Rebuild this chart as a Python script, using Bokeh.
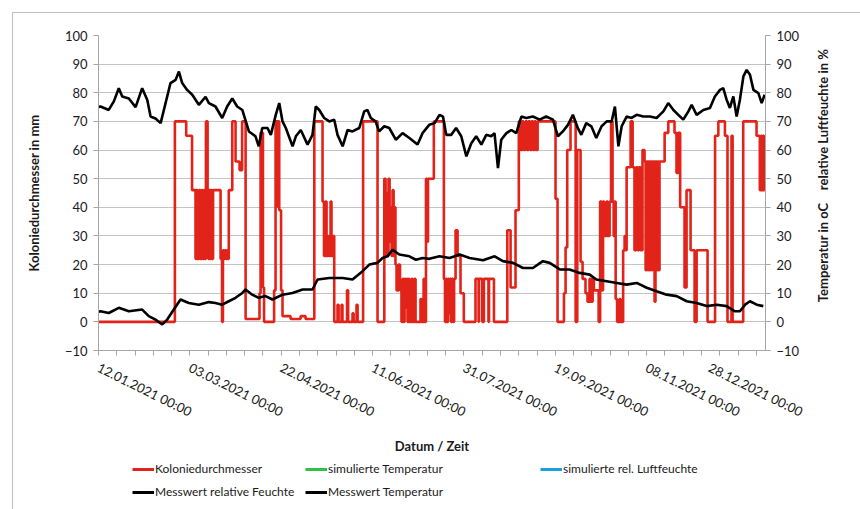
import math
from bokeh.plotting import figure
from bokeh.layouts import column, row
from bokeh.core.properties import value
from bokeh.models import (Range1d, LinearAxis, SingleIntervalTicker, FixedTicker,
                          Legend, LegendItem, InlineStyleSheet)
from bokeh.embed import file_html
from bokeh.resources import INLINE

FONT = "Lato"
NB = "\u00a0"

# x values: days after 12.01.2021 00:00
x_tick_days = [0, 50, 100, 150, 200, 250, 300, 350]
x_tick_labels = ["12.01.2021 00:00", "03.03.2021 00:00", "22.04.2021 00:00",
                 "11.06.2021 00:00", "31.07.2021 00:00", "19.09.2021 00:00",
                 "08.11.2021 00:00", "28.12.2021 00:00"]

# Messwert relative Feuchte (%)
hum_day = [0, 1.1, 5.6, 8.4, 11.1, 13.0, 16.6, 20.3, 23.9, 26.7, 28.5, 31.2, 34.0, 36.7, 39.4, 42.2,
           44.0, 45.8, 48.5, 51.3, 54.9, 58.6, 60.4, 64.0, 67.7, 70.4, 73.2, 75.9, 78.7, 82.3, 85.9,
           87.7, 89.6,
           92.5, 94.3, 97.0, 98.9, 100.7, 102.5, 106.2, 108.0, 110.7, 114.4, 117.1, 118.9, 120.8,
           123.5, 126.3, 129.0, 130.8, 133.6, 136.3, 139.0, 142.7, 145.4, 147.2, 149.0, 151.6, 153.6,
           156.4, 159.1, 162.7, 166.4, 170.1, 174.6, 177.3, 181.0,
           183.9, 186.6, 188.5, 190.3, 193.0, 195.7, 198.5, 201.3, 204.0, 206.7, 209.5, 212.2, 214.9,
           216.7, 218.6, 220.4, 223.2, 225.9, 228.6, 231.4, 234.1, 237.7, 241.4, 245.0, 248.7, 251.4,
           254.1, 256.9, 259.6, 262.3, 264.2, 266.9, 269.7, 272.4,
           275.3, 278.1, 280.8, 282.6, 284.5, 286.3, 289.0, 291.7, 294.5, 298.1, 301.8, 305.4, 309.1,
           311.8, 314.6, 317.3, 320.0, 322.8, 324.6, 327.3, 331.0, 334.6, 337.3, 340.1, 341.9, 343.7,
           345.5, 347.4, 349.2, 351.0, 352.9, 354.7, 356.5, 358.4, 361.1, 362.9, 364.5]
hum_val = [75, 75.2, 74, 77, 81.6, 78.7, 78, 75, 81.6, 77.5, 71.7, 71, 69.4, 76.4, 83.4, 84.5,
           87.4, 83.4, 81, 79.3, 75.8, 78.6, 76.4, 75.2, 71.2, 75.2, 78, 75.2, 74, 66.5, 64.8,
           61.3, 67.7,
           67.7, 65.3, 72.3, 76.4, 70, 67.7, 61.3, 64.8, 67, 61.9, 65.3, 75.2, 74,
           71.2, 70, 70.6, 65.3, 61.3, 67, 66.5, 67.7, 73.5, 74, 71.2, 70, 66.5,
           68.3, 67.7, 63.6, 65.9, 64.2, 61.9, 65.9, 68.8,
           69.4, 72.3, 71.7, 65.3, 65.3, 67.7, 64.8, 57.8, 62.4, 64.8, 61.9, 65.3, 64.8,
           65.9, 53.7, 63.6, 65.9, 67, 65.9, 71.7, 71.2, 71.7, 70.6, 71.7, 70.6, 64.8,
           66.5, 68.8, 72.3, 67.7, 65.3, 69.4, 68.3, 64.2,
           68.3, 70, 70, 75.2, 61.3, 68.3, 71.7, 71.2, 72.3, 71.7, 71.7, 71.2, 73.5,
           76.4, 74, 72.3, 70.6, 73.5, 75.8, 72.3, 74, 74.7, 78.7, 81, 81.6, 77.6,
           74.7, 78.7, 71.7, 77.6, 85.7, 88, 86.3, 81, 79.9, 76.4, 79.3]

# Messwert Temperatur (degC)
temp_day = [0, 1.1, 5.6, 11.1, 16.6, 23.9, 27.5, 31.2, 34.9, 37.6, 41.2, 44.9, 49.4, 54.9, 60.4,
            64.0, 67.7, 71.3, 75.0, 78.7, 80.5, 84.1, 87.7, 91.4, 95.2, 100.7, 106.2, 111.7, 117.1,
            119.9, 126.3, 133.6, 139.0, 144.5, 148.2, 152.7, 155.4, 158.2, 160.9, 164.6, 170.1,
            173.7, 177.3, 181.0, 186.6, 192.1, 197.6, 203.1, 210.4, 216.8, 221.3, 226.8, 232.3,
            237.7, 243.2, 246.9, 252.4, 257.8, 263.3, 268.8, 272.4, 278.1, 283.6, 289.0, 294.5,
            300.0, 305.4, 310.9, 316.4, 321.9, 327.3, 332.8, 338.3, 343.7, 348.3, 351.0, 353.8,
            356.5, 360.2, 363.8]
temp_val = [3.5, 3.7, 3.1, 4.9, 3.7, 4.3, 2.0, 0.8, -0.9, 0.8, 4.3, 7.8, 6.6, 6.0, 6.9,
            6.6, 6.0, 7.2, 8.4, 10.1, 11.3, 9.5, 8.4, 9.0, 7.8, 9.5, 10.1, 11.3, 11.3,
            14.8, 15.3, 15.3, 14.8, 17.7, 20.0, 20.6, 22.3, 22.9, 25.2, 23.5, 22.9,
            21.7, 22.3, 22.0, 22.9, 22.3, 23.5, 22.3, 21.5, 22.9, 21.2, 20.6, 18.8,
            18.8, 21.2, 20.6, 18.3, 18.3, 17.1, 16.5, 14.8, 14.2, 13.6, 13.0, 13.6,
            11.9, 10.7, 9.5, 9.0, 7.2, 6.6, 5.5, 6.0, 5.5, 3.7, 3.7, 6.0,
            7.2, 6.0, 5.5]

# Koloniedurchmesser (mm), step values
col_day = [0, 41.8, 48.0, 51.2, 53.1, 53.6, 54.2, 55.0, 55.6, 56.4, 56.9, 57.7, 58.3, 58.8, 59.7,
           60.1, 60.5, 61.0, 61.6, 62.1, 62.7, 66.8, 67.6, 68.1, 68.7, 69.2, 69.8, 70.3, 70.9, 71.3,
           73.2, 75.0, 77.2, 78.6, 80.5, 88.1, 88.7,
           90.0, 90.6, 96.1, 96.9, 97.3, 97.6, 98.0, 98.3, 98.9, 99.9, 100.7, 105.1, 110.6, 113.3,
           118.1, 122.6, 123.4, 124.2, 124.8, 125.6, 126.2, 127.0, 127.5, 128.3, 129.0, 130.8, 131.4,
           133.0, 133.5, 136.0, 136.6, 139.0, 139.6, 141.2, 141.8, 144.8, 152.7,
           156.4, 157.1, 157.6, 158.2, 158.7, 159.3, 159.8, 160.4, 160.9, 161.5, 162.0, 162.5, 163.1,
           164.2, 165.0, 165.8, 166.4, 166.9, 167.5, 168.0, 168.6, 169.1, 169.7, 170.2, 171.3, 171.9,
           172.9, 173.5, 176.2, 176.8, 177.9, 178.4, 179.2, 179.8, 180.3,
           183.5, 189.0, 189.6, 190.2, 190.7, 191.3, 191.8, 192.4, 192.9, 193.5, 194.0, 194.6, 195.4,
           196.5, 198.1, 199.9, 206.3, 208.0, 208.2, 210.0, 210.9, 213.4, 213.7, 216.4, 223.7, 225.5,
           228.2, 230.0, 231.0, 231.8, 232.6, 233.7, 234.5, 235.3, 236.2, 237.0, 237.8, 238.6, 239.4,
           240.3, 250.1, 251.2, 254.7, 255.6, 256.5, 258.3, 261.1, 262.0, 263.8, 264.9, 266.5, 267.6,
           268.7, 269.5, 270.4, 271.1,
           273.7, 274.5, 275.3, 276.1, 276.7, 278.0, 278.6, 279.7, 280.5, 281.3, 281.9, 282.4, 283.0,
           283.8, 285.1, 285.7, 287.1, 287.9, 288.4, 289.0, 291.2, 292.3, 293.3, 294.2, 295.0, 295.8,
           296.6, 297.7, 298.8, 299.4, 299.9, 300.5, 301.0, 301.6, 302.1, 302.7, 303.2, 304.3, 304.8,
           305.4, 305.9, 306.5, 307.0, 309.8, 311.8, 315.2, 316.3, 317.2, 318.3, 320.7, 321.8, 324.0,
           326.2, 327.3, 333.3, 337.4, 339.2, 342.8, 344.2, 346.4, 347.0, 352.8, 360.1, 361.9, 362.6,
           363.1, 363.7, 364.2, 364.6]
col_val = [0, 70, 65, 46, 22, 46, 22, 46, 22, 46, 22, 46, 22, 70, 46,
           22, 46, 22, 46, 22, 46, 22, 0, 25, 22, 25, 22, 25, 22, 46,
           70, 56, 53, 70, 1, 10, 66,
           12, 0, 11, 70, 40, 70, 45, 70, 39, 11, 2, 1, 2, 1,
           70, 42, 23, 42, 23, 30, 23, 42, 23, 30, 0, 6, 0,
           6, 0, 11, 0, 3, 0, 6, 0, 70, 0,
           50, 23, 45, 23, 50, 28, 40, 23, 46, 23, 40, 20, 11,
           20, 11, 0, 15, 0, 15, 5, 15, 0, 15, 0, 15, 0,
           15, 0, 8, 0, 15, 0, 50, 28, 50,
           70, 15, 0, 15, 0, 15, 3, 15, 0, 15, 0, 15, 32,
           23, 10, 0, 15, 0, 15, 0, 15, 0, 15, 0, 32, 12,
           39, 70, 60, 70, 60, 70, 60, 70, 60, 70, 60, 70, 60,
           70, 43, 0, 10, 26, 60, 70, 0, 60, 21, 15, 10, 7,
           15, 7, 15, 11,
           0, 42, 11, 42, 30, 42, 30, 42, 70, 42, 30, 42, 8,
           0, 8, 0, 25, 30, 25, 54, 70, 54, 25, 54, 25, 54,
           25, 60, 56, 18, 56, 18, 56, 18, 56, 18, 56, 7, 56,
           18, 56, 18, 56, 66, 70, 66, 52, 66, 40, 12, 46, 25,
           0, 25, 0, 65, 70, 65, 0, 65, 0, 70, 65, 46, 65,
           46, 65, 46, 46]

legend_labels = ["Koloniedurchmesser", "simulierte Temperatur", "simulierte rel. Luftfeuchte",
                 "Messwert relative Feuchte", "Messwert Temperatur"]
right_title = "Temperatur in oC" + NB * 4 + "relative Luftfeuchte in %"

RED = "#e2231a"
GREEN = "#2fbf4a"
BLUE = "#1a9fe0"
BLACK = "#000000"
AXIS_GRAY = "#a6a6a6"
GRID_GRAY = "#c4c4c4"
FRAME_GRAY = "#c0c0c0"
TXT = "#1a1a1a"

MAIN_W, MAIN_H = 805, 460
LEG_H = 49
STRIP_W = 860 - MAIN_W
TOTAL_H = MAIN_H + LEG_H
FRAME_LEFT = 98

p = figure(width=MAIN_W, height=MAIN_H, x_range=Range1d(0, 365), y_range=Range1d(-10, 100),
           output_backend="svg", toolbar_location=None,
           min_border_left=FRAME_LEFT, min_border_right=40, min_border_top=35, min_border_bottom=110)
p.extra_y_ranges = {"right": Range1d(-10, 100)}
p.outline_line_color = None
p.background_fill_color = "white"
p.border_fill_color = None

p.step(col_day, col_val, mode="after", line_color=RED, line_width=2.6)
p.line(hum_day, hum_val, line_color=BLACK, line_width=2.6)
p.line(temp_day, temp_val, line_color=BLACK, line_width=2.6)

# axes
yl = p.yaxis[0]
yl.ticker = SingleIntervalTicker(interval=10, num_minor_ticks=0)
yl.axis_label = "Koloniedurchmesser in mm"
yr = LinearAxis(y_range_name="right", ticker=SingleIntervalTicker(interval=10, num_minor_ticks=0))
p.add_layout(yr, "right")

for ax in (yl, yr):
    ax.axis_line_color = AXIS_GRAY
    ax.major_tick_line_color = AXIS_GRAY
    ax.major_tick_out = 5
    ax.major_tick_in = 0
    ax.major_label_text_font = FONT
    ax.major_label_text_font_size = "13px"
    ax.major_label_text_color = TXT
    ax.major_label_standoff = 6
    ax.axis_label_text_font = FONT
    ax.axis_label_text_font_style = "bold"
    ax.axis_label_text_font_size = "13px"
    ax.axis_label_text_color = TXT
yl.axis_label_standoff = 20

xa = p.xaxis[0]
minor = [d for d in range(0, 366, 10) if d % 50 != 0]
xa.ticker = FixedTicker(ticks=x_tick_days, minor_ticks=minor)
xa.major_label_overrides = {d: lab for d, lab in zip(x_tick_days, x_tick_labels)}
xa.major_label_orientation = -0.46
xa.axis_label = "Datum / Zeit"
xa.axis_line_color = AXIS_GRAY
xa.major_tick_line_color = AXIS_GRAY
xa.minor_tick_line_color = AXIS_GRAY
xa.major_tick_out = 5
xa.major_tick_in = 0
xa.minor_tick_out = 5
xa.minor_tick_in = 0
xa.major_label_text_font = FONT
xa.major_label_text_font_size = "13px"
xa.major_label_text_color = TXT
xa.major_label_standoff = 11
xa.axis_label_text_font = FONT
xa.axis_label_text_font_style = "bold"
xa.axis_label_text_font_size = "13px"
xa.axis_label_text_color = TXT
xa.axis_label_standoff = 8

p.xgrid.grid_line_color = None
p.ygrid.grid_line_color = GRID_GRAY
p.ygrid.grid_line_width = 1

# legend strip below the chart (its frame is aligned with the chart frame)
lg = figure(width=MAIN_W, height=LEG_H, x_range=Range1d(0, 1), y_range=Range1d(0, 1),
            output_backend="svg", toolbar_location=None, min_border=0,
            x_axis_location=None, y_axis_location=None)
lg.outline_line_color = None
lg.xgrid.grid_line_color = None
lg.ygrid.grid_line_color = None
lg.border_fill_color = None
lg.background_fill_color = None

leg_colors = [RED, GREEN, BLUE, BLACK, BLACK]
leg_pos = [(132 - FRAME_LEFT, 33), (305 - FRAME_LEFT, 33), (540 - FRAME_LEFT, 33),
           (132 - FRAME_LEFT, 10), (305 - FRAME_LEFT, 10)]
for label, color, (lx, ly) in zip(legend_labels, leg_colors, leg_pos):
    # sample renderer for the legend key only (lies outside the strip's range)
    rend = lg.line([-2, -1], [-2, -1], line_color=color, line_width=3)
    leg = Legend(items=[LegendItem(label=label, renderers=[rend])], location=(lx, ly),
                 padding=0, margin=0, spacing=0, glyph_width=22, glyph_height=12,
                 label_height=12, label_standoff=1, label_text_font=FONT,
                 label_text_font_size="12px", label_text_color=TXT,
                 border_line_alpha=0, background_fill_alpha=0)
    lg.add_layout(leg, "center")

# strip on the right holding the right axis title (reads bottom to top)
rs = figure(width=STRIP_W, height=TOTAL_H, x_range=Range1d(0, STRIP_W), y_range=Range1d(0, TOTAL_H),
            output_backend="svg", toolbar_location=None, min_border=0,
            x_axis_location=None, y_axis_location=None)
rs.outline_line_color = None
rs.xgrid.grid_line_color = None
rs.ygrid.grid_line_color = None
rs.border_fill_color = None
rs.background_fill_color = None
rs.text(x=[822 - MAIN_W], y=[TOTAL_H - 175], text=[right_title], angle=math.pi / 2,
        text_align="center", text_baseline="middle", text_font=value(FONT),
        text_font_style="bold", text_font_size="13px", text_color=TXT)

layout = row(column(p, lg, spacing=0), rs, spacing=0)
bg = (f"linear-gradient({FRAME_GRAY},{FRAME_GRAY}) 12px 12px / 100% 1px no-repeat, "
      f"linear-gradient({FRAME_GRAY},{FRAME_GRAY}) 12px 12px / 1px 100% no-repeat, white")
layout.stylesheets = [InlineStyleSheet(css=f":host {{ background: {bg}; }}")]

open("out.html", "w").write(file_html(layout, INLINE))
